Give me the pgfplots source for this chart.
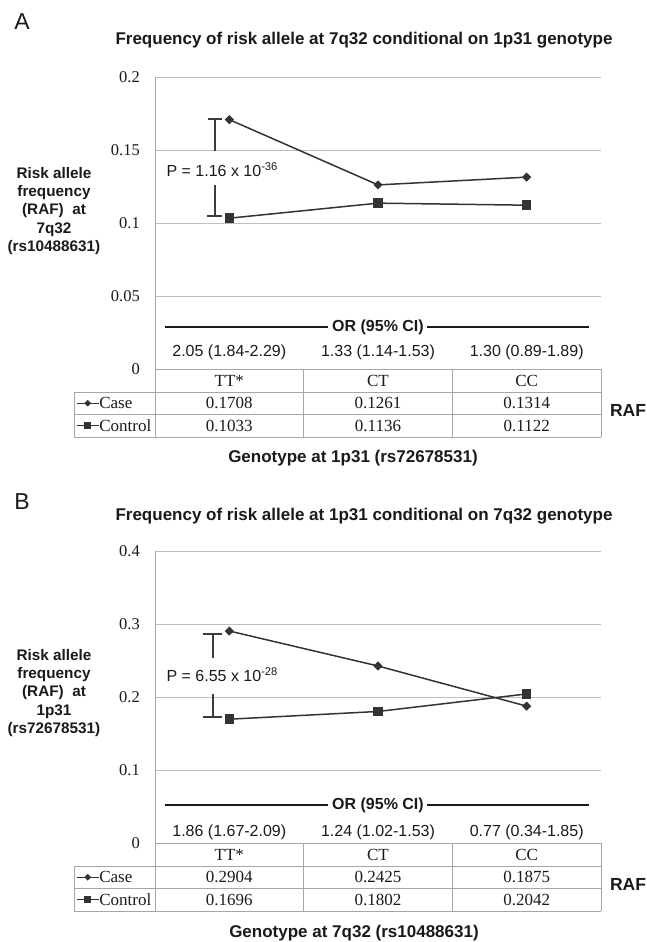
\documentclass[border=0pt]{standalone}
\usepackage{pgfplots}
\pgfplotsset{compat=1.18}
\usepackage{fontspec}
\setmainfont{Liberation Sans}
\newfontfamily\serif{Liberation Serif}
\definecolor{gridgray}{HTML}{BFBFBF}
\definecolor{tabgray}{HTML}{A6A6A6}
\definecolor{datagray}{HTML}{333333}
\definecolor{ink}{HTML}{1A1A1A}
\newcommand\fs[2]{\fontsize{#1}{#2}\selectfont}
\pgfplotsset{
 panel/.style={
   scale only axis, width=446pt, height=292pt, xmin=0.5, xmax=3.5, ymin=0,
   axis x line=none, axis y line=left, axis line style={-, draw=tabgray, line width=0.9pt},
   xtick=\empty, ymajorgrids, grid style={gridgray, line width=0.9pt},
   major tick length=0pt,
   yticklabel style={font=\serif\fs{16.5}{18}, inner sep=0pt, anchor=east, xshift=-15pt, text=ink},
   clip=false,
   legend cell align=left,
   legend image code/.code={\draw[mark repeat=2,mark phase=2,##1, line width=1.3pt, every mark/.append style={scale=0.7}] plot coordinates {(0pt,0pt)(11pt,0pt)(22pt,0pt)};},
   legend style={draw=none, fill=none, inner sep=0pt, outer sep=0pt, row sep=0pt, text=ink,
     font=\serif\fs{17}{20}, nodes={inner sep=0pt, text height=16.5pt, text depth=6pt},
     at={(-0.1771,-0.0788)}, anchor=north west},
 },
 casestyle/.style={datagray, line width=1.5pt, mark=square*, mark size=2.5pt, mark options={rotate=45, solid}},
 ctrlstyle/.style={datagray, line width=1.5pt, mark=square*, mark size=4pt, mark options={solid}},
}
\begin{document}
\begin{tikzpicture}
\useasboundingbox (0,0) rectangle (646pt,-942pt);
% ---------------- Panel A ----------------
\begin{axis}[panel, at={(155pt,-369pt)}, anchor=south west, ymax=0.2,
  ytick={0,0.05,0.1,0.15,0.2}, yticklabels={0,0.05,0.1,0.15,0.2}]
\addplot[casestyle] coordinates {(1,0.1708) (2,0.1261) (3,0.1314)};
\addplot[ctrlstyle] coordinates {(1,0.1033) (2,0.1136) (3,0.1122)};
\legend{Case,Control}
\end{axis}
% ---------------- Panel B ----------------
\begin{axis}[panel, at={(155pt,-843pt)}, anchor=south west, ymax=0.4,
  ytick={0,0.1,0.2,0.3,0.4}, yticklabels={0,0.1,0.2,0.3,0.4}]
\addplot[casestyle] coordinates {(1,0.2904) (2,0.2425) (3,0.1875)};
\addplot[ctrlstyle] coordinates {(1,0.1696) (2,0.1802) (3,0.2042)};
\legend{Case,Control}
\end{axis}
\begin{scope}[x=1pt, y=-1pt, text=ink]
% ===== A =====
\node[font=\fs{23}{26}] at (22,22) {A};
\node[font=\bfseries\fs{17}{20}] at (364,40) {Frequency of risk allele at 7q32 conditional on 1p31 genotype};
\node[font=\bfseries\fs{15.3}{18.3}, align=center] at (54,211) {Risk allele\\frequency\\(RAF)\ \ at\\7q32\\(rs10488631)};
\draw[ink!85, line width=1.2pt] (208,119)--(222,119) (215,119)--(215,151) (215,185)--(215,216) (207,216)--(222,216);
\node[anchor=west, font=\fs{16}{19}] at (163,170) {P = 1.16 x 10\textsuperscript{-36}};
\draw[ink, line width=1.2pt] (165,327)--(328,327) (427,327)--(589,327);
\node[font=\bfseries\fs{16}{19}] at (378,327) {OR (95\% CI)};
\node[font=\fs{16}{19}] at (229.3,352) {2.05 (1.84-2.29)};
\node[font=\fs{16}{19}] at (378,352) {1.33 (1.14-1.53)};
\node[font=\fs{16}{19}] at (526.7,352) {1.30 (0.89-1.89)};
\draw[tabgray, line width=0.9pt] (155,369)--(601,369) (74,392)--(601,392) (74,414)--(601,414) (74,437)--(601,437)
  (74,392)--(74,437) (155,369)--(155,437) (303,369)--(303,437) (452,369)--(452,437) (601,369)--(601,437);
\begin{scope}[every node/.style={font=\serif\fs{17}{20}}]
\node at (229.3,380.5) {TT*}; \node at (378,380.5) {CT}; \node at (526.7,380.5) {CC};
\node at (229.3,403) {0.1708}; \node at (378,403) {0.1261}; \node at (526.7,403) {0.1314};
\node at (229.3,425.5) {0.1033}; \node at (378,425.5) {0.1136}; \node at (526.7,425.5) {0.1122};
\end{scope}
\node[font=\bfseries\fs{17.5}{20}] at (628,410) {RAF};
\node[font=\bfseries\fs{17}{20}] at (353,458) {Genotype at 1p31 (rs72678531)};
% ===== B =====
\node[font=\fs{23}{26}] at (22,502) {B};
\node[font=\bfseries\fs{17}{20}] at (364,516) {Frequency of risk allele at 1p31 conditional on 7q32 genotype};
\node[font=\bfseries\fs{15.3}{18.3}, align=center] at (54,693) {Risk allele\\frequency\\(RAF)\ \ at\\1p31\\(rs72678531)};
\draw[ink!85, line width=1.2pt] (203,634)--(222,634) (213,634)--(213,658) (213,694)--(213,717) (203,717)--(222,717);
\node[anchor=west, font=\fs{16}{19}] at (163,675) {P = 6.55 x 10\textsuperscript{-28}};
\draw[ink, line width=1.2pt] (165,805)--(328,805) (427,805)--(589,805);
\node[font=\bfseries\fs{16}{19}] at (378,805) {OR (95\% CI)};
\node[font=\fs{16}{19}] at (229.3,832) {1.86 (1.67-2.09)};
\node[font=\fs{16}{19}] at (378,832) {1.24 (1.02-1.53)};
\node[font=\fs{16}{19}] at (526.7,832) {0.77 (0.34-1.85)};
\draw[tabgray, line width=0.9pt] (155,843)--(601,843) (74,866)--(601,866) (74,888)--(601,888) (74,911)--(601,911)
  (74,866)--(74,911) (155,843)--(155,911) (303,843)--(303,911) (452,843)--(452,911) (601,843)--(601,911);
\begin{scope}[every node/.style={font=\serif\fs{17}{20}}]
\node at (229.3,854.5) {TT*}; \node at (378,854.5) {CT}; \node at (526.7,854.5) {CC};
\node at (229.3,877) {0.2904}; \node at (378,877) {0.2425}; \node at (526.7,877) {0.1875};
\node at (229.3,899.5) {0.1696}; \node at (378,899.5) {0.1802}; \node at (526.7,899.5) {0.2042};
\end{scope}
\node[font=\bfseries\fs{17.5}{20}] at (628,884) {RAF};
\node[font=\bfseries\fs{17}{20}] at (354,933) {Genotype at 7q32 (rs10488631)};
\end{scope}
\end{tikzpicture}
\end{document}
